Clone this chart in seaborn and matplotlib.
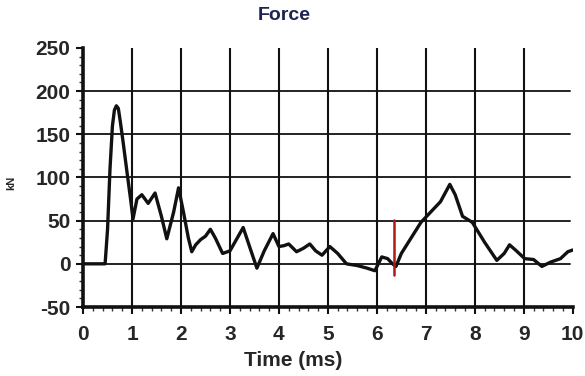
import numpy as np
import pandas as pd
import matplotlib
matplotlib.use('Agg')
import matplotlib.pyplot as plt
import seaborn as sns
from matplotlib.ticker import MultipleLocator

# force trace
time_ms = [0, 0.3, 0.45, 0.5, 0.55, 0.6, 0.64, 0.68, 0.72, 0.76, 0.82, 0.9, 0.97, 1.02,
           1.1, 1.2, 1.33, 1.47, 1.6, 1.71, 1.85, 1.95, 2.05, 2.15, 2.22, 2.3, 2.4, 2.5,
           2.6, 2.7, 2.85, 3.0, 3.15, 3.27, 3.4, 3.55, 3.7, 3.88, 4.0, 4.1, 4.2, 4.36,
           4.5, 4.63, 4.75, 4.88, 5.04, 5.2, 5.38, 5.6, 5.8, 5.96, 6.1, 6.22, 6.32, 6.39,
           6.5, 6.7, 6.9, 7.1, 7.3, 7.49, 7.6, 7.75, 7.95, 8.2, 8.45, 8.6, 8.71, 8.85,
           9.02, 9.2, 9.37, 9.55, 9.75, 9.9, 10.0]
force_kn = [0, 0, 0, 40, 110, 160, 178, 183, 180, 165, 140, 105, 75, 52,
            75, 80, 70, 82, 55, 29, 60, 88, 60, 30, 14, 22, 28, 32,
            40, 30, 12, 15, 30, 42, 20, -5, 15, 35, 20, 21, 23, 14,
            18, 23, 15, 10, 20, 12, 0, -2, -5, -8, 8, 6, 0, -3,
            12, 30, 48, 60, 72, 92, 80, 55, 48, 25, 4, 12, 22, 15,
            6, 5, -3, 2, 6, 14, 16]

# red marker line
marker_t = [6.35, 6.35]
marker_f = [-13, 51]

x_ticks = [0, 1, 2, 3, 4, 5, 6, 7, 8, 9, 10]
y_ticks = [-50, 0, 50, 100, 150, 200, 250]

sns.set_style('white')
plt.rcParams['font.family'] = ['Liberation Sans', 'DejaVu Sans']
plt.rcParams['axes.unicode_minus'] = False

fig = plt.figure(figsize=(5.85, 3.76), dpi=100)
ax = fig.add_axes([0.142, 0.1835, 0.837, 0.689])

# grid drawn by hand so it stops like in the scan
for y in [0, 50, 100, 150, 200]:
    ax.plot([0, 9.95], [y, y], color='#222222', lw=1.4, zorder=1)
for x in range(1, 10):
    ax.plot([x, x], [-50, 250], color='#111111', lw=1.5, zorder=1)

df = pd.DataFrame({'Time': time_ms, 'Force': force_kn})
sns.lineplot(data=df, x='Time', y='Force', color='#111111', lw=2.4, ax=ax, zorder=3)
ax.plot(marker_t, marker_f, color='#b01818', lw=1.8, zorder=4)

ax.set_xlim(0, 10)
ax.set_ylim(-50, 250)
ax.set_xticks(x_ticks)
ax.set_yticks(y_ticks)
ax.xaxis.set_minor_locator(MultipleLocator(0.2))
ax.yaxis.set_minor_locator(MultipleLocator(10))
ax.tick_params(axis='both', which='major', length=5, width=1.5, direction='out',
               labelsize=15, color='#111111')
ax.tick_params(axis='both', which='minor', length=3, width=1, direction='out',
               color='#333333')
ax.tick_params(axis='x', which='major', bottom=True, pad=8)
ax.tick_params(axis='x', which='minor', bottom=True)
ax.tick_params(axis='y', which='major', left=True, pad=4)
ax.tick_params(axis='y', which='minor', left=True)
for lab in ax.get_xticklabels() + ax.get_yticklabels():
    lab.set_fontweight('bold')

for s in ['top', 'right']:
    ax.spines[s].set_visible(False)
for s in ['left', 'bottom']:
    ax.spines[s].set_linewidth(2.6)
    ax.spines[s].set_color('#111111')

ax.set_xlabel('Time (ms)', fontsize=15, fontweight='bold', labelpad=5)
ax.xaxis.set_label_coords(0.43, -0.17)
ax.set_ylabel('kN', fontsize=8, fontweight='bold')
ax.yaxis.set_label_coords(-0.137, 0.48)
ax.set_title('Force', fontsize=14, fontweight='bold', color='#1d2452', x=0.41, pad=20)

fig.savefig('out.png', dpi=100)
